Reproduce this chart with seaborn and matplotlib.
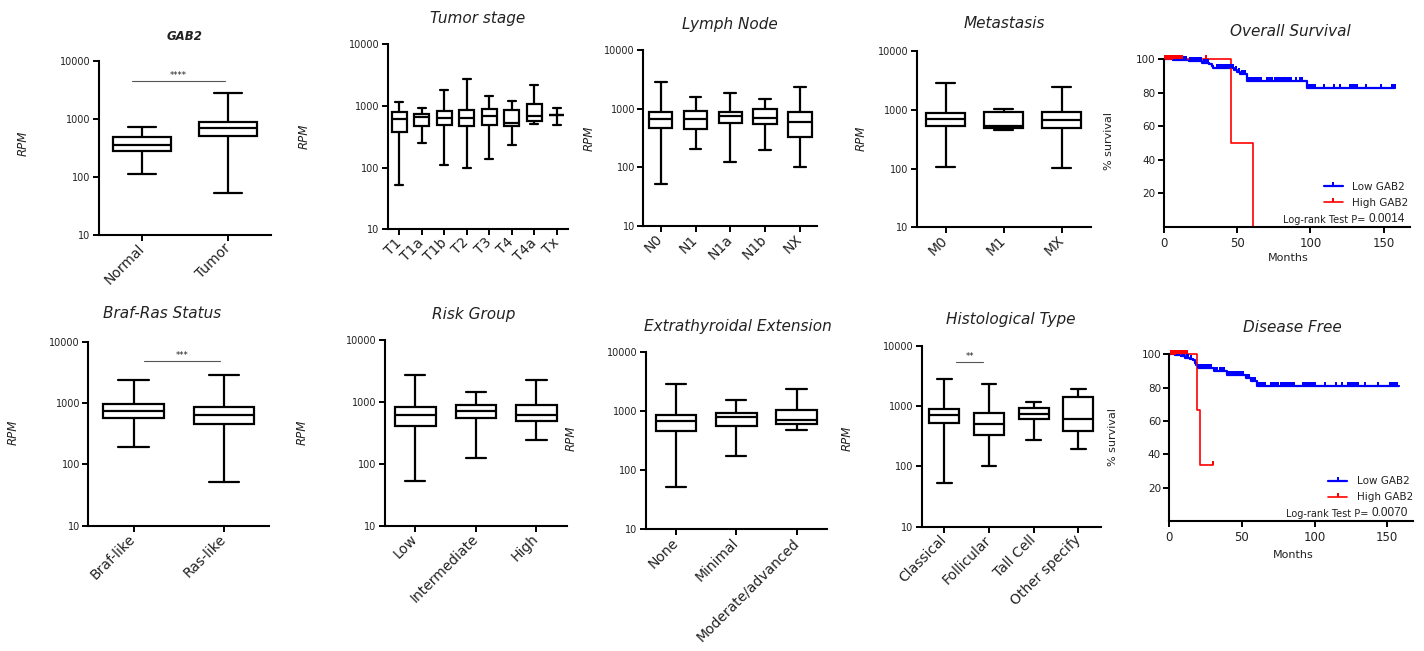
import numpy as np
import pandas as pd
import matplotlib
matplotlib.use("Agg")
import matplotlib.pyplot as plt
from matplotlib.path import Path
from matplotlib.lines import Line2D
from matplotlib.ticker import NullLocator
import seaborn as sns

# ---------------- data ----------------
# box statistics per group: (min, Q1, median, Q3, max) in RPM
gab2_cats = ["Normal", "Tumor"]
gab2_stats = [(113, 280, 356, 490, 728), (53, 500, 690, 890, 2850)]

stage_cats = ["T1", "T1a", "T1b", "T2", "T3", "T4", "T4a", "Tx"]
stage_stats = [(53, 374, 615, 790, 1180), (251, 468, 655, 733, 937),
               (112, 491, 631, 828, 1840), (99, 468, 631, 860, 2740),
               (140, 491, 695, 883, 1450), (235, 473, 536, 851, 1220),
               (505, 570, 695, 1090, 2190), (491, 714, 714, 714, 937)]

node_cats = ["N0", "N1", "N1a", "N1b", "NX"]
node_stats = [(53, 468, 658, 867, 2880), (205, 456, 658, 912, 1580),
              (123, 577, 760, 878, 1850), (197, 548, 703, 975, 1480),
              (103, 329, 600, 878, 2370)]

meta_cats = ["M0", "M1", "MX"]
meta_stats = [(108, 530, 706, 893, 2890), (453, 484, 530, 916, 1030),
              (102, 484, 679, 906, 2440)]

braf_cats = ["Braf-like", "Ras-like"]
braf_stats = [(194, 577, 741, 953, 2370), (52, 455, 638, 871, 2860)]

risk_cats = ["Low", "Intermediate", "High"]
risk_stats = [(53, 406, 618, 843, 2750), (126, 547, 717, 898, 1470),
              (244, 500, 618, 887, 2280)]

ete_cats = ["None", "Minimal", "Moderate/advanced"]
ete_stats = [(52, 457, 667, 863, 2840), (175, 562, 780, 933, 1545),
             (481, 601, 710, 1023, 2340)]

hist_cats = ["Classical", "Follicular", "Tall Cell", "Other specify"]
hist_stats = [(53, 526, 724, 899, 2800), (103, 333, 507, 771, 2340),
              (275, 614, 752, 923, 1175), (195, 383, 621, 1422, 1930)]

# significance brackets: (x start, x end, RPM level, stars)
gab2_sig = (-0.12, 0.96, 4500, "****")
braf_sig = (0.11, 0.96, 4900, "***")
hist_sig = (0.27, 0.87, 5500, "**")

# Kaplan-Meier curves: event times (months) and survival (%) after each step
os_low_t = [0, 6, 17, 26, 31, 32.5, 33.5, 48, 50, 52, 56.5, 97.5, 158]
os_low_s = [100, 99.4, 98.8, 98.0, 97.2, 96.2, 94.6, 93.6, 92.5, 91.3, 87.2, 82.6, 82.6]
os_low_cens = [1, 2, 3, 4, 5, 7, 8, 9, 10, 11, 12, 13, 14, 15, 18, 19, 20, 21, 22, 23,
               24, 25, 27, 28, 29, 30, 36, 37, 38, 39, 40, 41, 42, 43, 44, 45, 46, 47,
               49, 51, 53, 54, 55, 58, 59, 60, 61, 62, 63, 64, 65, 66, 70, 71, 72, 73,
               74, 76, 77, 78, 79, 80, 81, 82, 83, 84, 85, 86, 87, 90, 93, 94, 99, 100,
               101, 102, 103, 109, 116, 120, 127, 128, 129, 130, 131, 132, 138, 148,
               156, 157, 158]
os_high_t = [0, 46, 61]
os_high_s = [100, 50, 0]
os_high_cens = [1, 2, 3, 4, 5, 6, 7, 8, 9, 10, 11, 12, 29]
os_p = "0.0014"

df_low_t = [0, 4, 8, 11, 14, 16, 17.5, 18.5, 19.5, 30.5, 39.5, 52.5, 56, 60.5, 158]
df_low_s = [100, 99.4, 98.7, 98.0, 97.2, 96.3, 95.0, 93.5, 92.0, 90.0, 87.6, 85.6, 84.0, 81.2, 81.2]
df_low_cens = [1, 2, 3, 5, 6, 7, 9, 10, 12, 13, 15, 20, 21, 22, 23, 24, 25, 26, 27, 28,
               29, 31, 32, 33, 35, 36, 38, 40, 41, 42, 43, 44, 45, 46, 47, 48, 49, 50,
               51, 53, 54, 55, 57, 58, 59, 62, 63, 64, 65, 66, 70, 71, 72, 73, 74, 75,
               77, 78, 79, 80, 81, 82, 83, 84, 85, 86, 92, 93, 94, 95, 96, 97, 98, 99,
               100, 107, 115, 119, 123, 124, 125, 126, 127, 128, 129, 130, 135, 144,
               152, 153, 154, 155, 156, 157]
df_high_t = [0, 19, 21, 30]
df_high_s = [100, 66.7, 33.3, 33.3]
df_high_cens = [1, 2, 3, 4, 5, 6, 7, 8, 9, 10, 11, 12, 30]
df_p = "0.0070"

legend_labels = ["Low GAB2", "High GAB2"]

# ---------------- style ----------------
sns.set_style("ticks")
plt.rcParams["font.family"] = ["DejaVu Sans"]
plt.rcParams.update({
    "axes.edgecolor": "black", "axes.linewidth": 1.5,
    "xtick.color": "black", "ytick.color": "black",
    "xtick.labelcolor": "#222222", "ytick.labelcolor": "#222222",
    "text.color": "#222222",
    "xtick.direction": "out", "ytick.direction": "out",
})

W, H = 1424, 651
fig = plt.figure(figsize=(W / 100, H / 100), dpi=100)


def add_ax(l, t, r, b):
    return fig.add_axes([l / W, 1 - b / H, (r - l) / W, (b - t) / H])


def ftext(x, y, s, **kw):
    return fig.text(x / W, 1 - y / H, s, ha="center", va="center", **kw)


def box_panel(rect, cats, stats, title, title_xy, ylab_xy, bold=False, sig=None):
    ax = add_ax(*rect)
    df = pd.DataFrame({
        "group": np.repeat(cats, 5),
        "rpm": np.concatenate([np.asarray(s, float) for s in stats]),
    })
    sns.boxplot(data=df, x="group", y="rpm", order=cats, whis=(0, 100), width=0.67,
                color="white", linecolor="black", linewidth=1.6, log_scale=True,
                showfliers=False, ax=ax)
    ax.set_ylim(10, 10000)
    ax.set_yticks([10, 100, 1000, 10000], labels=["10", "100", "1000", "10000"])
    ax.yaxis.set_minor_locator(NullLocator())
    ax.set_xlim(-0.5, len(cats) - 0.5)
    ax.set_xticks(range(len(cats)), labels=cats, rotation=45, ha="right", va="center",
                  rotation_mode="anchor", fontsize=10)
    ax.tick_params(axis="y", labelsize=7, length=4, width=1.4, pad=2)
    ax.tick_params(axis="x", length=4, width=1.4, pad=4)
    ax.set_xlabel("")
    ax.set_ylabel("")
    sns.despine(ax=ax)
    if sig is not None:
        x0, x1, yv, stars = sig
        ax.plot([x0, x1], [yv, yv], color="#555555", lw=0.8)
        ax.annotate(stars, ((x0 + x1) / 2, yv), xytext=(0, 0.5), textcoords="offset points",
                    ha="center", va="bottom", fontsize=6)
    ftext(*title_xy, title, fontsize=8.5 if bold else 11, style="italic",
          weight="bold" if bold else "normal")
    ftext(*ylab_xy, "RPM", fontsize=8.5, style="italic", rotation=90)
    return ax


censor_marker = Path([(-0.35, 0), (0.35, 0), (0.35, 1), (-0.35, 1), (-0.35, 0)],
                     [Path.MOVETO, Path.LINETO, Path.LINETO, Path.LINETO, Path.CLOSEPOLY])


def km_panel(rect, curves, pval, title, title_xy, ylab_xy, xlab_xy, leg_xy, p_xy):
    ax = add_ax(*rect)
    for t, s, ct, color, lw in curves:
        sns.lineplot(x=t, y=s, drawstyle="steps-post", color=color, lw=lw,
                     estimator=None, sort=False, ax=ax, clip_on=False)
        ta = np.asarray(t, float)
        sa = np.asarray(s, float)
        cy = sa[np.searchsorted(ta, np.asarray(ct, float), side="right") - 1]
        sns.scatterplot(x=ct, y=cy, marker=censor_marker, s=36, color=color,
                        linewidth=0, ax=ax, clip_on=False, zorder=3)
    ax.set_xlim(0, 168)
    ax.set_ylim(0, 100)
    ax.set_xticks([0, 50, 100, 150])
    ax.set_yticks([20, 40, 60, 80, 100])
    ax.tick_params(axis="x", labelsize=8.5, length=4, width=1.4, pad=3)
    ax.tick_params(axis="y", labelsize=7.5, length=4, width=1.4, pad=2)
    ax.set_xlabel("")
    ax.set_ylabel("")
    sns.despine(ax=ax)
    handles = [Line2D([], [], color=c, lw=lw, marker=censor_marker, markersize=6,
                      markeredgewidth=0) for _, _, _, c, lw in curves]
    ax.legend(handles, legend_labels, loc="center left", bbox_to_anchor=leg_xy,
              frameon=False, fontsize=7.5, handlelength=1.8, handletextpad=0.9,
              labelspacing=0.55, borderpad=0, borderaxespad=0)
    tnum = ax.text(p_xy[0], p_xy[1], pval, transform=ax.transAxes, ha="right",
                   va="bottom", fontsize=8.5, family="Liberation Sans")
    ax.annotate("Log-rank Test P= ", xy=(0, 0.05), xycoords=tnum, ha="right",
                va="bottom", fontsize=7)
    ftext(*title_xy, title, fontsize=11, style="italic")
    ftext(*ylab_xy, "% survival", fontsize=8, rotation=90)
    ftext(*xlab_xy, "Months", fontsize=8)
    return ax


# ---------------- row 1 ----------------
box_panel((99, 61, 271, 235), gab2_cats, gab2_stats, "GAB2", (185, 36), (23, 143),
          bold=True, sig=gab2_sig)
box_panel((388, 44.3, 568, 229.3), stage_cats, stage_stats, "Tumor stage", (478, 19), (304, 136))
box_panel((643.3, 50, 817.3, 226), node_cats, node_stats, "Lymph Node", (730, 24), (589, 138))
box_panel((916.7, 51, 1090.7, 227.3), meta_cats, meta_stats, "Metastasis", (1004, 24), (861, 138))
km_panel((1164, 59.3, 1410, 226.8),
         [(os_low_t, os_low_s, os_low_cens, "#0000ff", 1.6),
          (os_high_t, os_high_s, os_high_cens, "#ff0000", 1.2)],
         os_p, "Overall Survival", (1290, 31), (1109, 141), (1288, 258),
         (0.65, 0.19), (0.98, 0.01))

# ---------------- row 2 ----------------
box_panel((88.3, 341.7, 269.3, 525.7), braf_cats, braf_stats, "Braf-Ras Status", (162, 314),
          (13, 432), sig=braf_sig)
box_panel((385, 340.3, 566.7, 525.7), risk_cats, risk_stats, "Risk Group", (474, 314), (302, 432))
box_panel((646, 351.7, 826.7, 529.3), ete_cats, ete_stats, "Extrathyroidal Extension",
          (738, 326), (571, 438))
box_panel((922, 346, 1100.7, 526.7), hist_cats, hist_stats, "Histological Type", (1011, 320),
          (847, 438), sig=hist_sig)
km_panel((1169.3, 354.3, 1413.3, 521),
         [(df_low_t, df_low_s, df_low_cens, "#0000ff", 1.6),
          (df_high_t, df_high_s, df_high_cens, "#ff0000", 1.2)],
         df_p, "Disease Free", (1292, 327.5), (1113, 437), (1293, 555),
         (0.652, 0.19), (0.978, 0.01))

fig.savefig("out.png", dpi=100)
